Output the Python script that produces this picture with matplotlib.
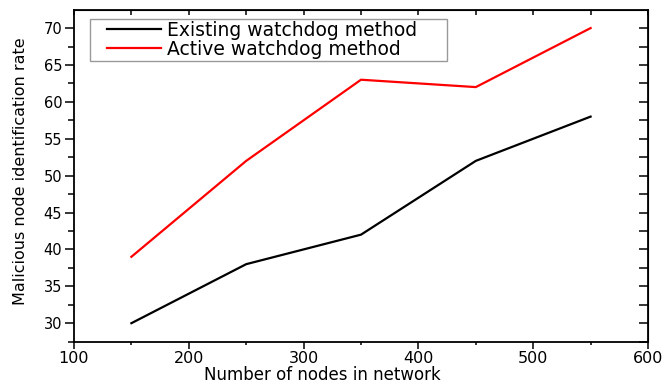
import numpy as np
import matplotlib.pyplot as plt
from matplotlib.patches import Rectangle
from matplotlib.ticker import MultipleLocator

plt.rcParams['font.family'] = ['DejaVu Sans']

nodes = [150, 250, 350, 450, 550]
existing = [30, 38, 42, 52, 58]
active = [39, 52, 63, 62, 70]

fig = plt.figure(figsize=(6.62, 3.83), dpi=100)
ax = fig.add_axes([74 / 662, 1 - 342 / 383, 574 / 662, 332 / 383])

ax.plot(nodes, existing, color='black', lw=1.6, label='Existing watchdog method')
ax.plot(nodes, active, color='red', lw=1.6, label='Active watchdog method')

ax.set_xlim(100, 600)
ax.set_ylim(27.45, 72.45)
ax.xaxis.set_major_locator(MultipleLocator(100))
ax.xaxis.set_minor_locator(MultipleLocator(50))
ax.yaxis.set_major_locator(MultipleLocator(5))
ax.yaxis.set_minor_locator(MultipleLocator(2.5))

ax.tick_params(which='both', direction='out', top=False, right=False, width=1.1)
ax.tick_params(axis='x', which='major', length=5, labelsize=11.5, pad=1.5)
ax.tick_params(axis='x', which='minor', length=2.5)
ax.tick_params(axis='y', which='major', length=6.5, labelsize=10.5, pad=2)
ax.tick_params(axis='y', which='minor', length=4)
for s in ax.spines.values():
    s.set_linewidth(1.3)

# inward ticks on the top and right edges
top = ax.secondary_xaxis('top')
top.xaxis.set_major_locator(MultipleLocator(50))
top.tick_params(direction='in', length=3.6, labeltop=False, width=1.1)
right = ax.secondary_yaxis('right')
right.yaxis.set_major_locator(MultipleLocator(2.5))
right.tick_params(direction='in', length=6.5, labelright=False, width=1.1)

ax.set_xlabel('Number of nodes in network', fontsize=12)
ax.xaxis.set_label_coords(0.432, -0.072)
ax.set_ylabel('Malicious node identification rate', fontsize=11.5, va='center')
ax.yaxis.set_label_coords(-0.094, 0.515)

# legend box drawn separately so it can be wider than the entries
ax.add_patch(Rectangle((0.028, 0.846), 0.622, 0.127, transform=ax.transAxes,
                       facecolor='white', edgecolor='#999999', lw=1, zorder=4))
leg = ax.legend(loc='upper left', bbox_to_anchor=(0.0575, 0.967), fontsize=13.5,
                frameon=False, handlelength=2.9, borderpad=0, labelspacing=0.0,
                handletextpad=0.32, borderaxespad=0)
leg.set_zorder(5)

fig.savefig('out.png', dpi=100)
